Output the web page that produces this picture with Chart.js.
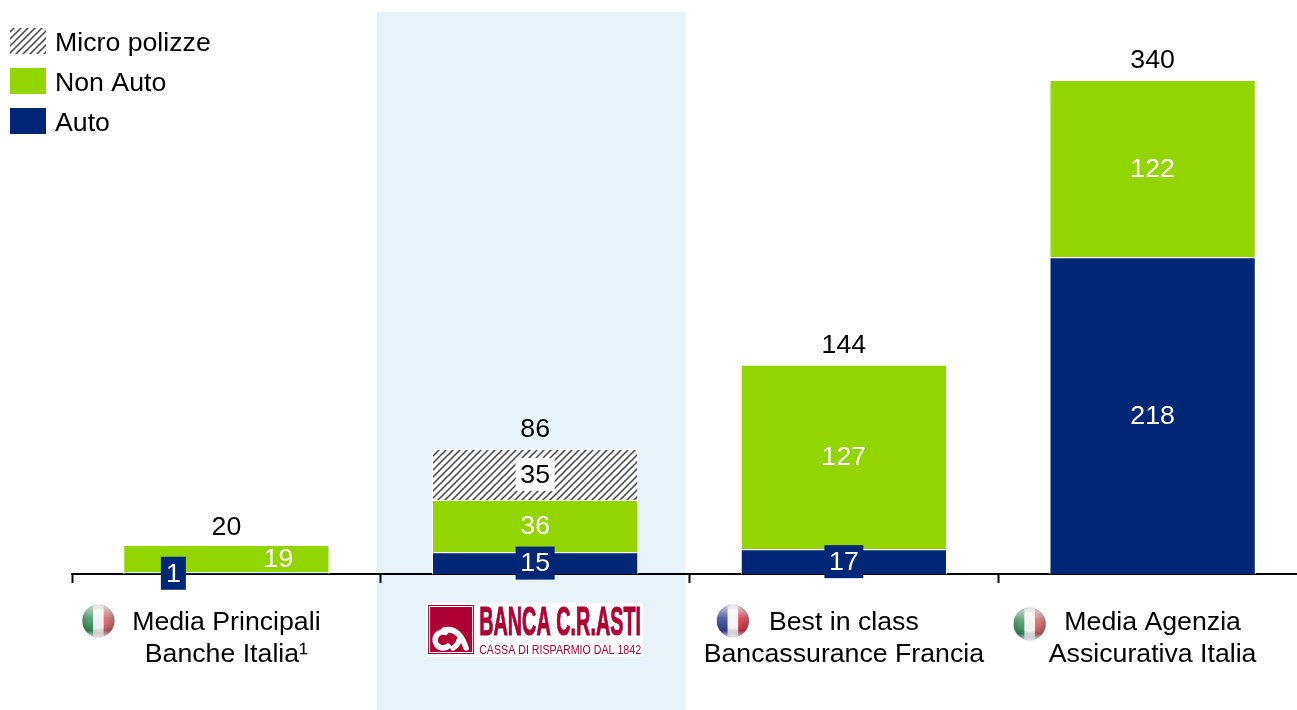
<!DOCTYPE html>
<html>
<head>
<meta charset="utf-8">
<style>
  html, body { margin: 0; padding: 0; background: #fff; overflow: hidden; }
  canvas { display: block; }
</style>
<script src="https://cdn.jsdelivr.net/npm/chart.js@4/dist/chart.umd.min.js"></script>
</head>
<body>
<canvas id="insurance-chart" width="1307" height="710"></canvas>
<script>
const categories = [
  ["Media Principali", "Banche Italia¹"],
  "",
  ["Best in class", "Bancassurance Francia"],
  ["Media Agenzia", "Assicurativa Italia"]
];
const auto = [1, 15, 17, 218];
const nonAuto = [19, 36, 127, 122];
const microPolizze = [0, 35, 0, 0];
const totals = [20, 86, 144, 340];
const flags = ["it", null, "fr", "it"];

const FONT = '26.7px "Liberation Sans", Arial, sans-serif';
const NAVY = "#002776";
const GREEN = "#92D500";

// hatch fill for the micro polizze segment and its legend swatch
function hatch() {
  const c = document.createElement("canvas");
  c.width = 7; c.height = 7;
  const g = c.getContext("2d");
  g.fillStyle = "#fff";
  g.fillRect(0, 0, 7, 7);
  g.strokeStyle = "#444";
  g.lineWidth = 1.5;
  g.beginPath();
  g.moveTo(-2, 9); g.lineTo(9, -2);
  g.moveTo(-5, 5); g.lineTo(5, -5);
  g.moveTo(2, 12); g.lineTo(12, 2);
  g.stroke();
  return g.createPattern(c, "repeat");
}
const HATCH = hatch();

// label tweaks per segment: x shift from bar centre and an optional box behind the number
const autoStyle = [
  { dx: -53, box: NAVY, w: 25, color: "#fff" },
  { dx: 0, box: NAVY, w: 39, color: "#fff" },
  { dx: 0, box: NAVY, w: 39, color: "#fff" },
  { dx: 0, color: "#fff" }
];
const nonAutoStyle = [{ dx: 52, color: "#fff" }, { dx: 0, color: "#fff" }, { dx: 0, color: "#fff" }, { dx: 0, color: "#fff" }];
const microStyle = [null, { dx: 0, box: "#fff", w: 39, color: "#000" }, null, null];
const segmentStyles = [autoStyle, nonAutoStyle, microStyle];
const totalGaps = [17, 19, 19, 19];

const bandPlugin = {
  id: "band",
  beforeDraw(chart) {
    const x = chart.scales.x;
    const step = x.getPixelForValue(1) - x.getPixelForValue(0);
    const ctx = chart.ctx;
    ctx.save();
    ctx.fillStyle = "#E7F2F9";
    ctx.fillRect(x.getPixelForValue(1) - step / 2 - 4, 12, step, chart.height - 12);
    ctx.restore();
  }
};

function drawFlag(ctx, kind, cx, cy) {
  const r = 16;
  const colors = kind === "fr" ? ["#2A3A9C", "#F4F4F8", "#D8283C"] : ["#2F9457", "#F0F0F0", "#CF5A60"];
  ctx.save();
  ctx.shadowColor = "rgba(120,120,120,0.5)";
  ctx.shadowBlur = 2;
  ctx.fillStyle = "#ddd";
  ctx.beginPath();
  ctx.arc(cx, cy, r, 0, Math.PI * 2);
  ctx.fill();
  ctx.restore();

  ctx.save();
  ctx.beginPath();
  ctx.arc(cx, cy, r, 0, Math.PI * 2);
  ctx.clip();
  const w = (r * 2) / 3;
  colors.forEach((c, i) => {
    ctx.fillStyle = c;
    ctx.fillRect(cx - r + i * w, cy - r, w + 1, r * 2);
  });
  // darker rim, glossy top and light bottom edge
  const rim = ctx.createRadialGradient(cx, cy - 2, r * 0.55, cx, cy, r);
  rim.addColorStop(0, "rgba(60,60,60,0)");
  rim.addColorStop(1, "rgba(60,60,60,0.45)");
  ctx.fillStyle = rim;
  ctx.fillRect(cx - r, cy - r, r * 2, r * 2);
  const gloss = ctx.createLinearGradient(0, cy - r, 0, cy + r);
  gloss.addColorStop(0, "rgba(255,255,255,0.75)");
  gloss.addColorStop(0.4, "rgba(255,255,255,0.2)");
  gloss.addColorStop(0.8, "rgba(255,255,255,0)");
  gloss.addColorStop(1, "rgba(255,255,255,0.7)");
  ctx.fillStyle = gloss;
  ctx.fillRect(cx - r, cy - r, r * 2, r * 2);
  ctx.restore();
}

function drawLogo(ctx, cx) {
  const red = "#AE0032";
  ctx.save();
  ctx.fillStyle = "#fff";
  ctx.fillRect(cx - 109, 603, 217, 54);
  ctx.fillStyle = red;
  ctx.fillRect(cx - 107, 605, 46, 49);
  ctx.strokeStyle = "#fff";
  ctx.lineWidth = 1;
  ctx.strokeRect(cx - 105.5, 606.5, 43, 46);
  // white monogram inside the square
  ctx.lineWidth = 5.5;
  ctx.lineCap = "round";
  ctx.beginPath();
  ctx.arc(cx - 92, 640, 8, 0.9, Math.PI * 1.6);
  ctx.moveTo(cx - 91, 630);
  ctx.quadraticCurveTo(cx - 76, 627, cx - 69, 648);
  ctx.moveTo(cx - 82, 648);
  ctx.quadraticCurveTo(cx - 77, 645, cx - 76, 640);
  ctx.stroke();
  ctx.fillStyle = red;
  ctx.strokeStyle = red;
  ctx.lineWidth = 1;
  ctx.lineCap = "butt";
  ctx.textAlign = "left";
  ctx.textBaseline = "alphabetic";
  ctx.font = 'bold 41px "Liberation Sans", sans-serif';
  ctx.fillText("BANCA C.R.ASTI", cx - 56, 635, 162);
  ctx.strokeText("BANCA C.R.ASTI", cx - 56, 635, 162);
  ctx.font = '12.5px "Liberation Sans", sans-serif';
  ctx.fillText("CASSA DI RISPARMIO DAL 1842", cx - 56, 654, 162);
  ctx.restore();
}

const labelsPlugin = {
  id: "segmentLabels",
  afterDatasetsDraw(chart) {
    const ctx = chart.ctx;
    const x = chart.scales.x, y = chart.scales.y;
    ctx.save();
    ctx.font = FONT;
    ctx.textAlign = "center";
    ctx.textBaseline = "middle";
    // number inside every segment
    chart.data.datasets.forEach((ds, d) => {
      chart.getDatasetMeta(d).data.forEach((bar, i) => {
        const st = segmentStyles[d][i];
        if (!st) return;
        const px = bar.x + st.dx;
        const py = (bar.y + bar.base) / 2;
        if (st.box) {
          ctx.fillStyle = st.box;
          ctx.fillRect(px - st.w / 2, py - 16.5, st.w, 33);
        }
        ctx.fillStyle = st.color;
        ctx.fillText(ds.data[i], px, py + 1);
      });
    });
    // totals above the stacks
    ctx.fillStyle = "#000";
    totals.forEach((t, i) => {
      ctx.fillText(t, x.getPixelForValue(i), y.getPixelForValue(t) - totalGaps[i]);
    });
    ctx.restore();

    // legend, top left, reversed like the stack
    ctx.save();
    ctx.font = FONT;
    ctx.textBaseline = "middle";
    ctx.textAlign = "left";
    [2, 1, 0].forEach((d, row) => {
      const ds = chart.data.datasets[d];
      const top = 28 + row * 40;
      ctx.fillStyle = ds.backgroundColor;
      ctx.fillRect(10, top, 36, 26);
      ctx.fillStyle = "#000";
      ctx.fillText(ds.label, 55, top + 16);
    });
    ctx.restore();

    flags.forEach((f, i) => {
      if (!f) return;
      const shift = { 0: -128, 2: -111, 3: -123 }[i];
      drawFlag(ctx, f, x.getPixelForValue(i) + shift, i === 3 ? 624 : 621);
    });
    drawLogo(ctx, x.getPixelForValue(1));
  }
};

new Chart(document.getElementById("insurance-chart"), {
  type: "bar",
  data: {
    labels: categories,
    datasets: [
      { label: "Auto", data: auto, backgroundColor: NAVY },
      { label: "Non Auto", data: nonAuto, backgroundColor: GREEN },
      { label: "Micro polizze", data: microPolizze, backgroundColor: HATCH }
    ]
  },
  options: {
    responsive: false,
    animation: false,
    barPercentage: 0.668,
    categoryPercentage: 1,
    borderColor: "#fff",
    borderWidth: 1,
    layout: { padding: { left: 72, top: 0, right: 0, bottom: 0 } },
    plugins: { legend: { display: false }, tooltip: { enabled: false }, title: { display: false } },
    scales: {
      x: {
        stacked: true,
        afterFit(scale) { scale.height = 136; },
        border: { display: true, color: "#000", width: 2 },
        grid: { offset: true, drawOnChartArea: false, drawTicks: true, tickLength: 9, tickWidth: 2, tickColor: "#000" },
        ticks: { autoSkip: false, maxRotation: 0, padding: 24, color: "#000", font: { family: '"Liberation Sans", Arial, sans-serif', size: 26.7, lineHeight: 1.2 } }
      },
      y: { stacked: true, display: false, min: 0, max: 395 }
    }
  },
  plugins: [bandPlugin, labelsPlugin]
});
</script>
</body>
</html>
